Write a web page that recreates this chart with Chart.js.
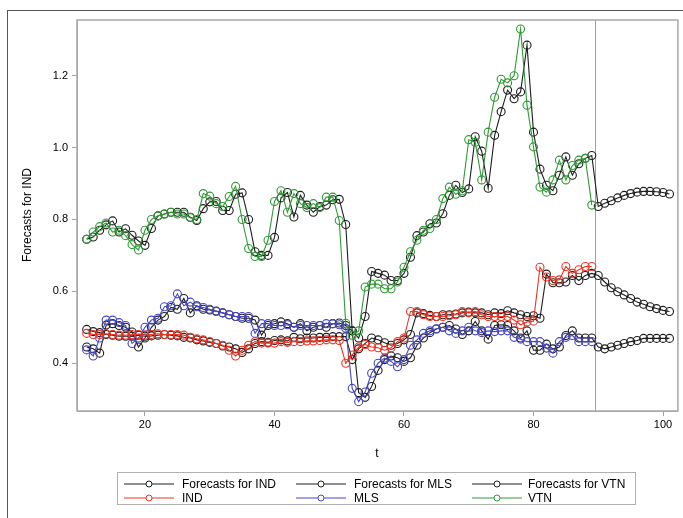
<!DOCTYPE html>
<html><head><meta charset="utf-8">
<script src="https://cdn.jsdelivr.net/npm/chart.js@4.4.1/dist/chart.umd.min.js"></script>
<style>
body{margin:0;background:#fff;}
#wrap{position:relative;width:683px;height:518px;overflow:hidden;font-family:"Liberation Sans",Arial,sans-serif;color:#000;}
#c{position:absolute;left:0;top:0;}
#outer{position:absolute;left:7px;top:10px;width:700px;height:600px;border-top:1.5px solid #555;border-left:1.5px solid #555;}
#ytitle{position:absolute;left:27px;top:215px;transform:translate(-50%,-50%) rotate(-90deg);font-size:12px;white-space:nowrap;}
#xtitle{position:absolute;left:377px;top:453px;transform:translate(-50%,-50%);font-size:12px;}
#legend{position:absolute;left:117px;top:472px;width:519px;height:33px;border:1px solid #b0b0b0;box-sizing:border-box;}
.li{position:absolute;font-size:12px;white-space:nowrap;line-height:14px;}
.sw{position:absolute;}
</style></head><body>
<div id="wrap">
<div id="outer"></div>
<canvas id="c" width="683" height="518"></canvas>
<div id="ytitle">Forecasts for IND</div>
<div id="xtitle">t</div>
<div id="legend"></div>
</div>
<script>
// time index
const tActual = [11,12,13,14,15,16,17,18,19,20,21,22,23,24,25,26,27,28,29,30,31,32,33,34,35,36,37,38,39,40,41,42,43,44,45,46,47,48,49,50,51,52,53,54,55,56,57,58,59,60,61,62,63,64,65,66,67,68,69,70,71,72,73,74,75,76,77,78,79,80,81,82,83,84,85,86,87,88,89];
const tForecast = [11,12,13,14,15,16,17,18,19,20,21,22,23,24,25,26,27,28,29,30,31,32,33,34,35,36,37,38,39,40,41,42,43,44,45,46,47,48,49,50,51,52,53,54,55,56,57,58,59,60,61,62,63,64,65,66,67,68,69,70,71,72,73,74,75,76,77,78,79,80,81,82,83,84,85,86,87,88,89,90,91,92,93,94,95,96,97,98,99,100,101];

const IND = [0.483,0.480,0.480,0.482,0.480,0.478,0.478,0.480,0.480,0.478,
0.480,0.482,0.480,0.480,0.480,0.478,0.472,0.468,0.465,0.460,
0.455,0.450,0.436,0.420,0.436,0.450,0.460,0.456,0.456,0.456,
0.460,0.458,0.460,0.460,0.462,0.462,0.463,0.465,0.465,0.463,
0.400,0.423,0.445,0.452,0.445,0.443,0.436,0.443,0.460,0.470,
0.544,0.544,0.535,0.530,0.530,0.530,0.532,0.535,0.544,0.540,
0.544,0.535,0.530,0.530,0.530,0.530,0.520,0.507,0.515,0.517,
0.667,0.640,0.630,0.632,0.669,0.650,0.660,0.669,0.669];

const MLS = [0.437,0.420,0.470,0.520,0.520,0.513,0.505,0.455,0.470,0.500,
0.520,0.525,0.557,0.560,0.593,0.560,0.570,0.557,0.555,0.550,
0.544,0.540,0.535,0.530,0.530,0.530,0.483,0.510,0.510,0.505,
0.505,0.507,0.500,0.505,0.505,0.505,0.505,0.510,0.510,0.507,
0.497,0.330,0.293,0.320,0.372,0.400,0.414,0.405,0.390,0.410,
0.450,0.465,0.483,0.490,0.496,0.500,0.490,0.483,0.490,0.500,
0.490,0.485,0.490,0.488,0.490,0.490,0.472,0.467,0.460,0.460,
0.460,0.442,0.428,0.460,0.472,0.477,0.460,0.460,0.460];

const VTN = [0.745,0.765,0.780,0.790,0.765,0.770,0.755,0.730,0.715,0.770,
0.800,0.810,0.815,0.820,0.815,0.815,0.805,0.800,0.872,0.865,
0.844,0.836,0.864,0.892,0.800,0.719,0.697,0.697,0.742,0.850,
0.880,0.820,0.872,0.844,0.833,0.844,0.833,0.862,0.862,0.797,
0.511,0.478,0.490,0.612,0.620,0.620,0.607,0.607,0.626,0.667,
0.710,0.742,0.770,0.775,0.800,0.858,0.890,0.870,0.880,1.022,
1.015,0.910,1.043,1.140,1.190,1.180,1.200,1.330,1.118,1.002,
0.890,0.876,0.910,0.965,0.910,0.950,0.965,0.970,0.840];

const fcIND = [0.494,0.488,0.485,0.480,0.478,0.475,0.475,0.475,0.478,0.475,
0.476,0.478,0.480,0.478,0.476,0.472,0.470,0.465,0.462,0.458,
0.455,0.448,0.445,0.440,0.430,0.440,0.455,0.460,0.458,0.463,
0.465,0.462,0.472,0.468,0.470,0.470,0.472,0.472,0.474,0.474,
0.474,0.410,0.440,0.455,0.470,0.465,0.457,0.450,0.455,0.465,
0.480,0.540,0.538,0.533,0.530,0.535,0.535,0.537,0.540,0.542,
0.540,0.540,0.535,0.540,0.538,0.546,0.540,0.535,0.530,0.532,
0.525,0.648,0.624,0.624,0.626,0.644,0.630,0.644,0.650,
0.644,0.626,0.610,0.599,0.590,0.580,0.570,0.564,0.557,0.552,0.547,0.544];

const fcMLS = [0.445,0.440,0.428,0.506,0.510,0.505,0.500,0.487,0.445,0.470,
0.500,0.520,0.530,0.555,0.550,0.580,0.540,0.560,0.550,0.548,
0.545,0.540,0.535,0.530,0.525,0.525,0.520,0.478,0.505,0.510,
0.515,0.510,0.500,0.510,0.490,0.500,0.505,0.500,0.510,0.512,
0.505,0.490,0.318,0.305,0.335,0.380,0.410,0.420,0.415,0.405,
0.415,0.450,0.470,0.485,0.495,0.500,0.505,0.495,0.480,0.490,
0.516,0.490,0.467,0.505,0.507,0.505,0.490,0.470,0.490,0.436,
0.436,0.453,0.440,0.445,0.477,0.490,0.470,0.470,0.470,
0.445,0.440,0.445,0.450,0.455,0.460,0.463,0.469,0.469,0.469,0.469,0.469];

const fcVTN = [0.745,0.751,0.770,0.785,0.796,0.765,0.774,0.756,0.740,0.728,
0.775,0.810,0.815,0.820,0.820,0.820,0.806,0.797,0.830,0.849,
0.850,0.825,0.825,0.870,0.874,0.800,0.710,0.700,0.700,0.750,
0.860,0.875,0.807,0.867,0.840,0.820,0.836,0.840,0.855,0.856,
0.786,0.490,0.470,0.530,0.655,0.650,0.645,0.630,0.630,0.650,
0.695,0.755,0.765,0.788,0.790,0.816,0.867,0.895,0.875,0.885,
1.030,0.990,0.887,1.034,1.100,1.160,1.136,1.155,1.285,1.043,
0.940,0.895,0.880,0.923,0.974,0.923,0.955,0.970,0.978,
0.836,0.845,0.852,0.860,0.867,0.872,0.876,0.878,0.878,0.877,0.875,0.871];

const xTicks = [20,40,60,80,100];
const yTicks = [0.4,0.6,0.8,1.0,1.2];
const refLineT = 89.5;

const seriesNames = ['Forecasts for IND','Forecasts for MLS','Forecasts for VTN','IND','MLS','VTN'];
const seriesColors = ['#1e1e1e','#1e1e1e','#1e1e1e','#ee3524','#4747c6','#2f9b35'];

function pts(ts, vs){ return vs.map((v,i)=>({x:ts[i], y:v})); }
function ds(label, data, color, order){
  return {label, data, borderColor:color, borderWidth:1.1, pointRadius:4, pointBorderWidth:1.1,
    pointBorderColor:color, pointBackgroundColor:'rgba(0,0,0,0)', backgroundColor:'rgba(0,0,0,0)',
    fill:false, tension:0, order};
}

const framePlugin = {
  id:'frame',
  beforeDatasetsDraw(chart){
    const {ctx, chartArea:a, scales:{x}} = chart;
    ctx.save();
    ctx.strokeStyle = '#a0a0a0'; ctx.lineWidth = 1;
    const px = Math.round(x.getPixelForValue(refLineT)) + 0.5;
    ctx.beginPath(); ctx.moveTo(px, a.top); ctx.lineTo(px, a.bottom); ctx.stroke();
    ctx.restore();
  },
  afterDraw(chart){
    const {ctx, chartArea:a} = chart;
    ctx.save();
    ctx.strokeStyle = '#a8a8a8'; ctx.lineWidth = 1.5;
    ctx.strokeRect(a.left, a.top, a.right - a.left, a.bottom - a.top);
    ctx.restore();
  }
};

new Chart(document.getElementById('c'), {
  type:'line',
  data:{datasets:[
    ds(seriesNames[0], pts(tForecast, fcIND), seriesColors[0], 3),
    ds(seriesNames[1], pts(tForecast, fcMLS), seriesColors[1], 3),
    ds(seriesNames[2], pts(tForecast, fcVTN), seriesColors[2], 3),
    ds(seriesNames[3], pts(tActual, IND), seriesColors[3], 1),
    ds(seriesNames[4], pts(tActual, MLS), seriesColors[4], 1),
    ds(seriesNames[5], pts(tActual, VTN), seriesColors[5], 1)
  ]},
  options:{
    responsive:false, animation:false, events:[],
    layout:{padding:{top:20, right:5, left:0, bottom:77}},
    plugins:{legend:{display:false}, tooltip:{enabled:false}},
    scales:{
      x:{type:'linear', min:9.5, max:102.3,
        afterBuildTicks(s){ s.ticks = xTicks.map(v=>({value:v})); },
        afterFit(s){ s.height = 30; },
        grid:{drawOnChartArea:false, drawTicks:true, tickLength:5, color:'#a0a0a0'},
        border:{display:true, color:'#a8a8a8'},
        ticks:{color:'#000', font:{family:'"Liberation Sans", Arial', size:11}, padding:2, maxRotation:0,
          callback:v=>String(v)}
      },
      y:{type:'linear', min:0.267, max:1.355,
        afterBuildTicks(s){ s.ticks = yTicks.map(v=>({value:v})); },
        afterFit(s){ s.width = 77; },
        grid:{drawOnChartArea:false, drawTicks:true, tickLength:5, color:'#a0a0a0'},
        border:{display:true, color:'#a8a8a8'},
        ticks:{color:'#000', font:{family:'"Liberation Sans", Arial', size:11}, padding:4,
          callback:v=>Number(v).toFixed(1)}
      }
    }
  },
  plugins:[framePlugin]
});

// legend (HTML, real text)
const leg = document.getElementById('legend');
const legCols = [{sx:6, tx:64},{sx:178, tx:236},{sx:354, tx:410}];
seriesNames.forEach((name,i)=>{
  const col = legCols[i%3], row = Math.floor(i/3);
  const cy = row===0 ? 11 : 25;
  const svgNS='http://www.w3.org/2000/svg';
  const svg=document.createElementNS(svgNS,'svg');
  svg.setAttribute('width','50'); svg.setAttribute('height','10');
  svg.setAttribute('class','sw');
  svg.style.left = col.sx+'px'; svg.style.top=(cy-5)+'px';
  const ln=document.createElementNS(svgNS,'line');
  ln.setAttribute('x1','0');ln.setAttribute('x2','50');ln.setAttribute('y1','5');ln.setAttribute('y2','5');
  ln.setAttribute('stroke',seriesColors[i]);ln.setAttribute('stroke-width','1');
  const ci=document.createElementNS(svgNS,'circle');
  ci.setAttribute('cx','25');ci.setAttribute('cy','5');ci.setAttribute('r','3');
  ci.setAttribute('fill','#fff');ci.setAttribute('stroke',seriesColors[i]);ci.setAttribute('stroke-width','1');
  svg.appendChild(ln);svg.appendChild(ci);leg.appendChild(svg);
  const sp=document.createElement('div'); sp.className='li'; sp.textContent=name;
  sp.style.left=col.tx+'px'; sp.style.top=(cy-7)+'px';
  leg.appendChild(sp);
});
</script>
</body></html>
